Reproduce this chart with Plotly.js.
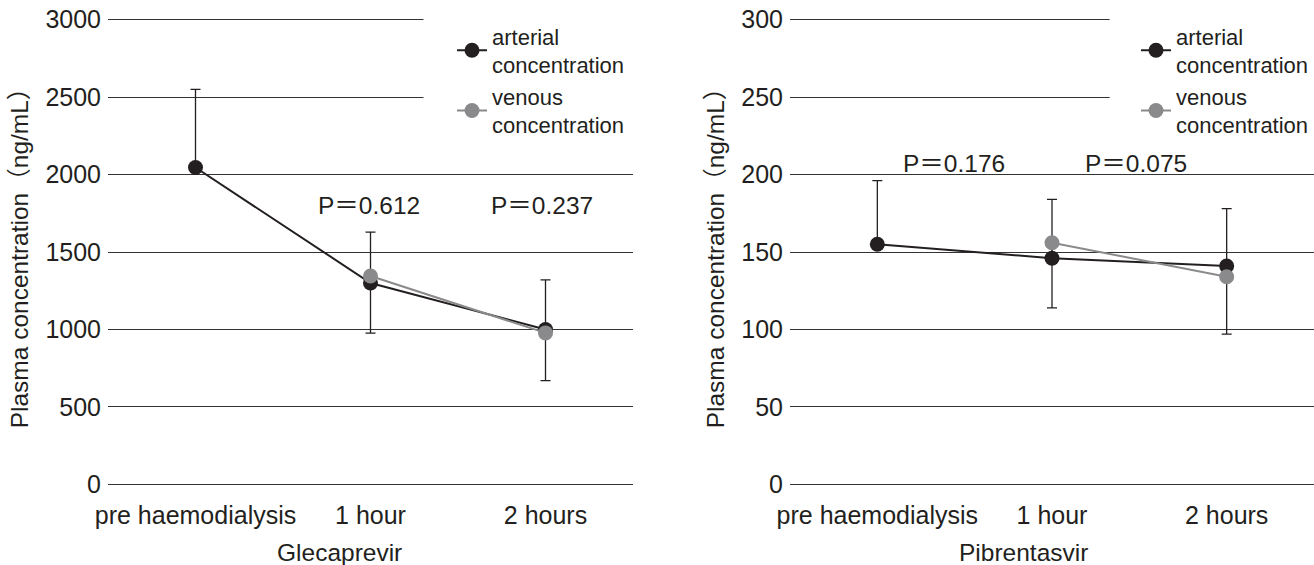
<!DOCTYPE html>
<html><head><meta charset="utf-8">
<script src="https://cdn.plot.ly/plotly-3.0.1.min.js"></script>
<style>html,body{margin:0;padding:0;background:#fff;}#chart{width:1314px;height:565px;}</style>
</head><body><div id="chart"></div>
<script>
const categories = ['pre haemodialysis', '1 hour', '2 hours'];
const glecArterial = [2045, 1300, 1000];
const glecArterialSDplus = [505, 328, 320];
const glecVenous = [null, 1345, 978];
const glecVenousSDminus = [0, 368, 308];
const pibArterial = [155, 146, 141];
const pibArterialSDplus = [41, 38, 37];
const pibVenous = [null, 156, 134];
const pibVenousSDminus = [0, 42, 37];
const glecPvalues = ['P＝0.612', 'P＝0.237'];
const pibPvalues = ['P＝0.176', 'P＝0.075'];
const seriesNames = ['arterial<br>concentration', 'venous<br>concentration'];
const yTitle = 'Plasma concentration（ng/mL）';
const drugNames = ['Glecaprevir', 'Pibrentasvir'];

const FONT = 'Liberation Sans, Arial, Noto Sans CJK JP, sans-serif';
const BLACK = '#231f20';
const GREY = '#8a8a8c';

function pair(yA, sdA, yV, sdV, xa, ya, lg) {
  return [
    {x: categories, y: yA, xaxis: xa, yaxis: ya, legend: lg, name: seriesNames[0],
     type: 'scatter', mode: 'lines+markers',
     line: {color: BLACK, width: 2}, marker: {color: BLACK, size: 15},
     error_y: {type: 'data', symmetric: false, array: sdA, arrayminus: [0,0,0],
               color: BLACK, thickness: 1.3, width: 5}},
    {x: categories, y: yV, xaxis: xa, yaxis: ya, legend: lg, name: seriesNames[1],
     type: 'scatter', mode: 'lines+markers', connectgaps: false,
     line: {color: GREY, width: 2}, marker: {color: GREY, size: 15},
     error_y: {type: 'data', symmetric: false, array: [0,0,0], arrayminus: sdV,
               color: BLACK, thickness: 1.3, width: 5}}
  ];
}

const data = [
  ...pair(glecArterial, glecArterialSDplus, glecVenous, glecVenousSDminus, 'x', 'y', 'legend'),
  ...pair(pibArterial, pibArterialSDplus, pibVenous, pibVenousSDminus, 'x2', 'y2', 'legend2')
];

const W = 1314;
function xax(d0, d1, anchor) {
  return {domain: [d0, d1], anchor: anchor, type: 'category', range: [-0.5, 2.5], showgrid: false,
    zeroline: false, showline: false, ticks: '', ticklabelstandoff: 12,
    tickfont: {family: FONT, size: 25, color: BLACK}, fixedrange: true};
}
function yax(max, dt, anchor) {
  const pad = max / 300;
  return {anchor: anchor, range: [-pad, max + pad], tickmode: 'linear', tick0: 0, dtick: dt,
    showgrid: true, gridcolor: '#333333', gridwidth: 1,
    zeroline: true, zerolinecolor: '#333333', zerolinewidth: 1, showline: false,
    ticks: '', ticklabelstandoff: 6,
    tickfont: {family: FONT, size: 25, color: BLACK},
    title: {text: yTitle, font: {family: FONT, size: 24.5, color: BLACK}, standoff: 9}};
}
function legendAt(x) {
  return {x: x, xanchor: 'left', y: 1.006, yanchor: 'top', bgcolor: 'rgba(0,0,0,0)',
    borderwidth: 0, font: {family: FONT, size: 22, color: BLACK},
    tracegroupgap: 0, itemclick: false};
}
function ann(text, xref, yref, x, y, size) {
  return {text: text, xref: xref, yref: yref, x: x, y: y, showarrow: false,
    font: {family: FONT, size: size, color: BLACK}, xanchor: 'center', yanchor: 'middle'};
}
function mask(xref, yref, x0, y0, y1) {
  return {type: 'rect', xref: xref, yref: yref, x0: x0, x1: 2.7, y0: y0, y1: y1,
    fillcolor: '#ffffff', line: {width: 0}, layer: 'above'};
}

const layout = {
  width: 1314, height: 565,
  margin: {l: 0, r: 0, t: 18, b: 79},
  paper_bgcolor: '#ffffff', plot_bgcolor: '#ffffff',
  showlegend: true,
  xaxis: xax(108 / W, 633 / W, 'y'),
  yaxis: yax(3000, 500, 'x'),
  xaxis2: xax(790 / W, 1, 'y2'),
  yaxis2: yax(300, 50, 'x2'),
  legend: legendAt(452 / W),
  legend2: legendAt(1136 / W),
  shapes: [
    mask('x', 'y', 1.303, 2300, 3100),
    mask('x2', 'y2', 1.33, 230, 310)
  ],
  annotations: [
    ann(glecPvalues[0], 'x', 'y', 0.99, 1800, 24.5),
    ann(glecPvalues[1], 'x', 'y', 1.98, 1800, 24.5),
    ann(pibPvalues[0], 'x2', 'y2', 0.44, 207, 24.5),
    ann(pibPvalues[1], 'x2', 'y2', 1.48, 207, 24.5),
    ann(drugNames[0], 'paper', 'paper', 339 / W, -0.142, 24.5),
    ann(drugNames[1], 'paper', 'paper', 1023 / W, -0.142, 24.5)
  ]
};

Plotly.newPlot('chart', data, layout, {displayModeBar: false, staticPlot: true});
</script></body></html>
